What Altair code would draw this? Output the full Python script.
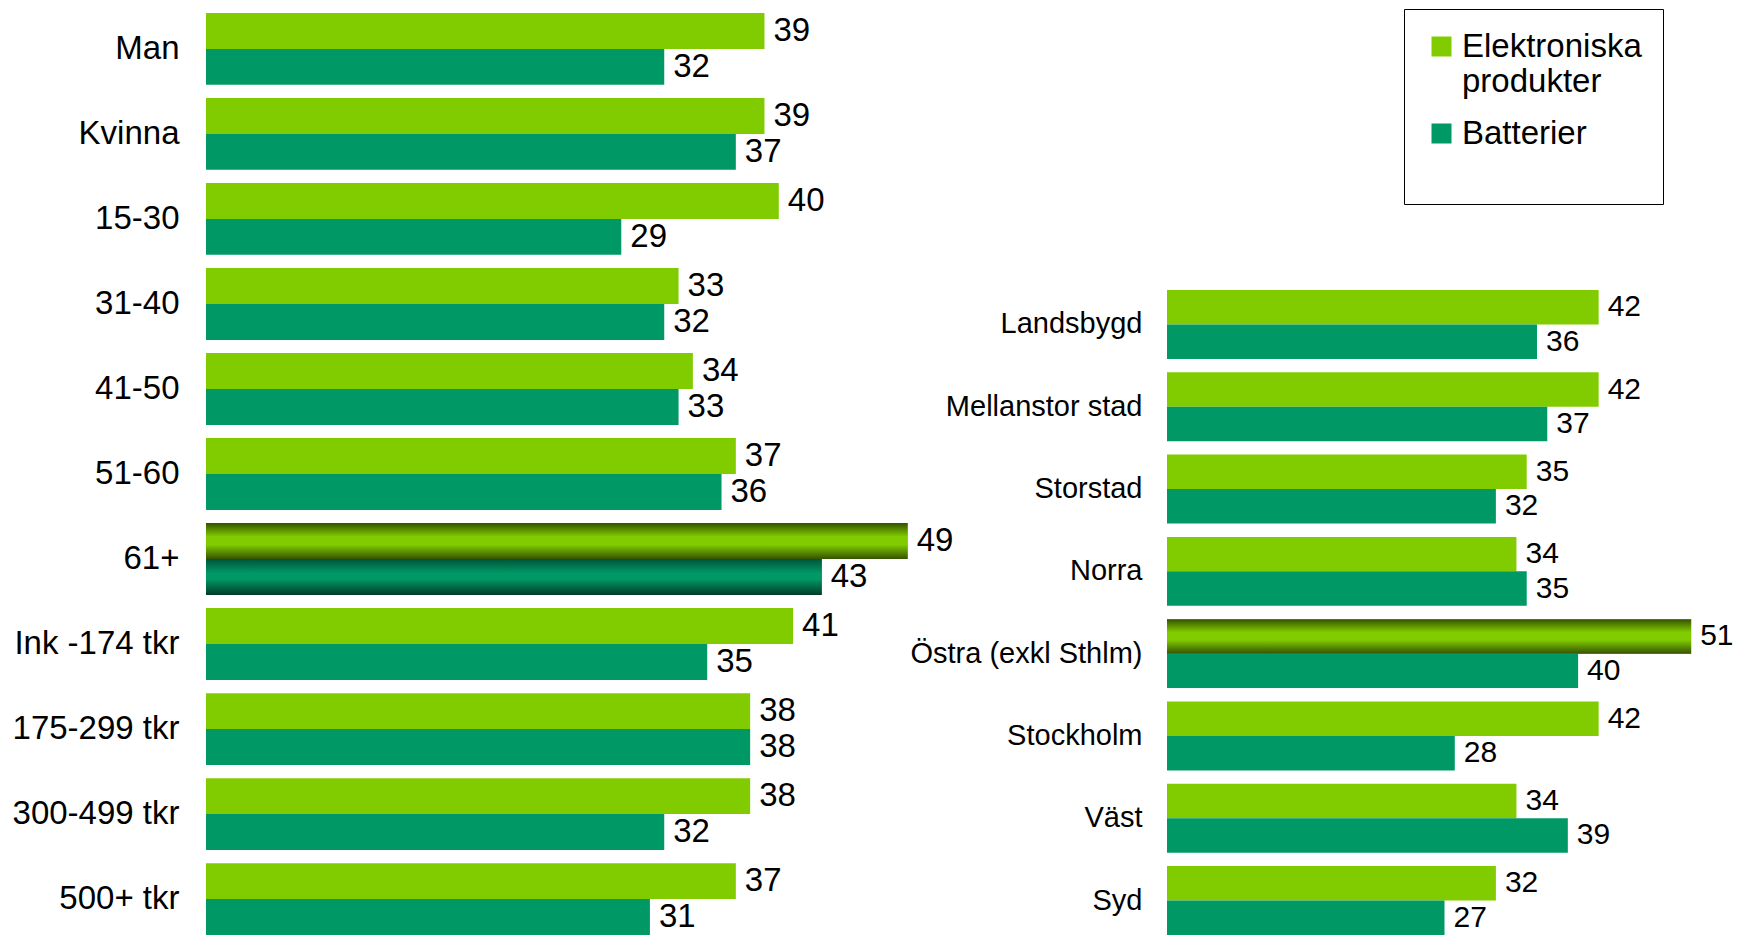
import altair as alt
import pandas as pd

FONT = "Liberation Sans, Arial, sans-serif"

S_E = "Elektroniska produkter"
S_B = "Batterier"
SERIES = [S_E, S_B]
COLORS = ["#80CC00", "#009966"]

# Left panel
left_cats = ["Man", "Kvinna", "15-30", "31-40", "41-50", "51-60", "61+",
             "Ink -174 tkr", "175-299 tkr", "300-499 tkr", "500+ tkr"]
left_elek = [39, 39, 40, 33, 34, 37, 49, 41, 38, 38, 37]
left_batt = [32, 37, 29, 32, 33, 36, 43, 35, 38, 32, 31]
left_hl_elek = [0, 0, 0, 0, 0, 0, 1, 0, 0, 0, 0]
left_hl_batt = [0, 0, 0, 0, 0, 0, 1, 0, 0, 0, 0]

# Right panel
right_cats = ["Landsbygd", "Mellanstor stad", "Storstad", "Norra",
              "Östra (exkl Sthlm)", "Stockholm", "Väst", "Syd"]
right_elek = [42, 42, 35, 34, 51, 42, 34, 32]
right_batt = [36, 37, 32, 35, 40, 28, 39, 27]
right_hl_elek = [0, 0, 0, 0, 1, 0, 0, 0]
right_hl_batt = [0, 0, 0, 0, 0, 0, 0, 0]


def long_df(cats, elek, batt, hl_e, hl_b):
    rows = []
    for c, e, b, he, hb in zip(cats, elek, batt, hl_e, hl_b):
        rows.append({"kat": c, "serie": S_E, "value": e, "hl": he})
        rows.append({"kat": c, "serie": S_B, "value": b, "hl": hb})
    return pd.DataFrame(rows)


GRAD_E = alt.Gradient(
    gradient="linear",
    stops=[alt.GradientStop(color="#365200", offset=0),
           alt.GradientStop(color="#80CC00", offset=0.38),
           alt.GradientStop(color="#80CC00", offset=0.6),
           alt.GradientStop(color="#365200", offset=1)],
    x1=0, x2=0, y1=0, y2=1)
GRAD_B = alt.Gradient(
    gradient="linear",
    stops=[alt.GradientStop(color="#00553a", offset=0),
           alt.GradientStop(color="#009966", offset=0.4),
           alt.GradientStop(color="#009966", offset=0.55),
           alt.GradientStop(color="#003d26", offset=1)],
    x1=0, x2=0, y1=0, y2=1)

H = 926


def panel(df, cats, xmax, width, pi, yscale_extra, label_fs, value_fs, label_pad, legend):
    y = alt.Y("kat:N", sort=cats,
              scale=alt.Scale(domain=cats, paddingInner=pi, **yscale_extra),
              axis=alt.Axis(title=None, ticks=False, domain=False, grid=False,
                            labelFontSize=label_fs, labelPadding=label_pad,
                            labelColor="black", labelFont=FONT, labelLimit=500))
    yoff = alt.YOffset("serie:N", scale=alt.Scale(domain=SERIES, paddingInner=0, paddingOuter=0))
    x = alt.X("value:Q", scale=alt.Scale(domain=[0, xmax]), axis=None)
    base = alt.Chart(df).encode(y=y, yOffset=yoff, x=x)
    bars = base.mark_bar().encode(
        color=alt.Color("serie:N", scale=alt.Scale(domain=SERIES, range=COLORS), legend=legend))
    hl_e = base.transform_filter(
        (alt.datum.hl == 1) & (alt.datum.serie == S_E)).mark_bar(color=GRAD_E)
    hl_b = base.transform_filter(
        (alt.datum.hl == 1) & (alt.datum.serie == S_B)).mark_bar(color=GRAD_B)
    text = base.mark_text(align="left", baseline="middle", dx=9, fontSize=value_fs,
                          font=FONT, color="black").encode(text="value:Q")
    return alt.layer(bars, hl_e, hl_b, text).properties(width=width, height=H)


legend = alt.Legend(
    title=" ", titleOrient="bottom", titleFontSize=28, titlePadding=4,
    orient="none", legendX=237, legendY=0,
    symbolType="square", symbolSize=400, symbolStrokeWidth=0,
    labelFontSize=33, labelFont=FONT, labelColor="black", labelOffset=4,
    labelLimit=400, padding=21, strokeColor="black", fillColor="white",
    rowPadding=18,
    labelExpr="datum.label == 'Elektroniska produkter' ? ['Elektroniska', 'produkter'] : datum.label")

left = panel(long_df(left_cats, left_elek, left_batt, left_hl_elek, left_hl_batt),
             left_cats, 50, 716, 0.155,
             {"paddingOuter": 0.0235, "align": 1}, 33, 33, 27, None)
right = panel(long_df(right_cats, right_elek, right_batt, right_hl_elek, right_hl_batt),
              right_cats, 54, 555, 0.163,
              {"paddingOuter": 0, "range": [281, H]}, 29, 30, 25, legend)

chart = alt.hconcat(left, right, spacing=245, bounds="flush").resolve_scale(
    color="independent", x="independent", y="independent", yOffset="independent"
).properties(
    padding={"left": 4, "top": 0, "right": 0, "bottom": 0}
).configure_view(stroke=None)

chart.save("out.html", embed_options={"renderer": "svg", "actions": False})
